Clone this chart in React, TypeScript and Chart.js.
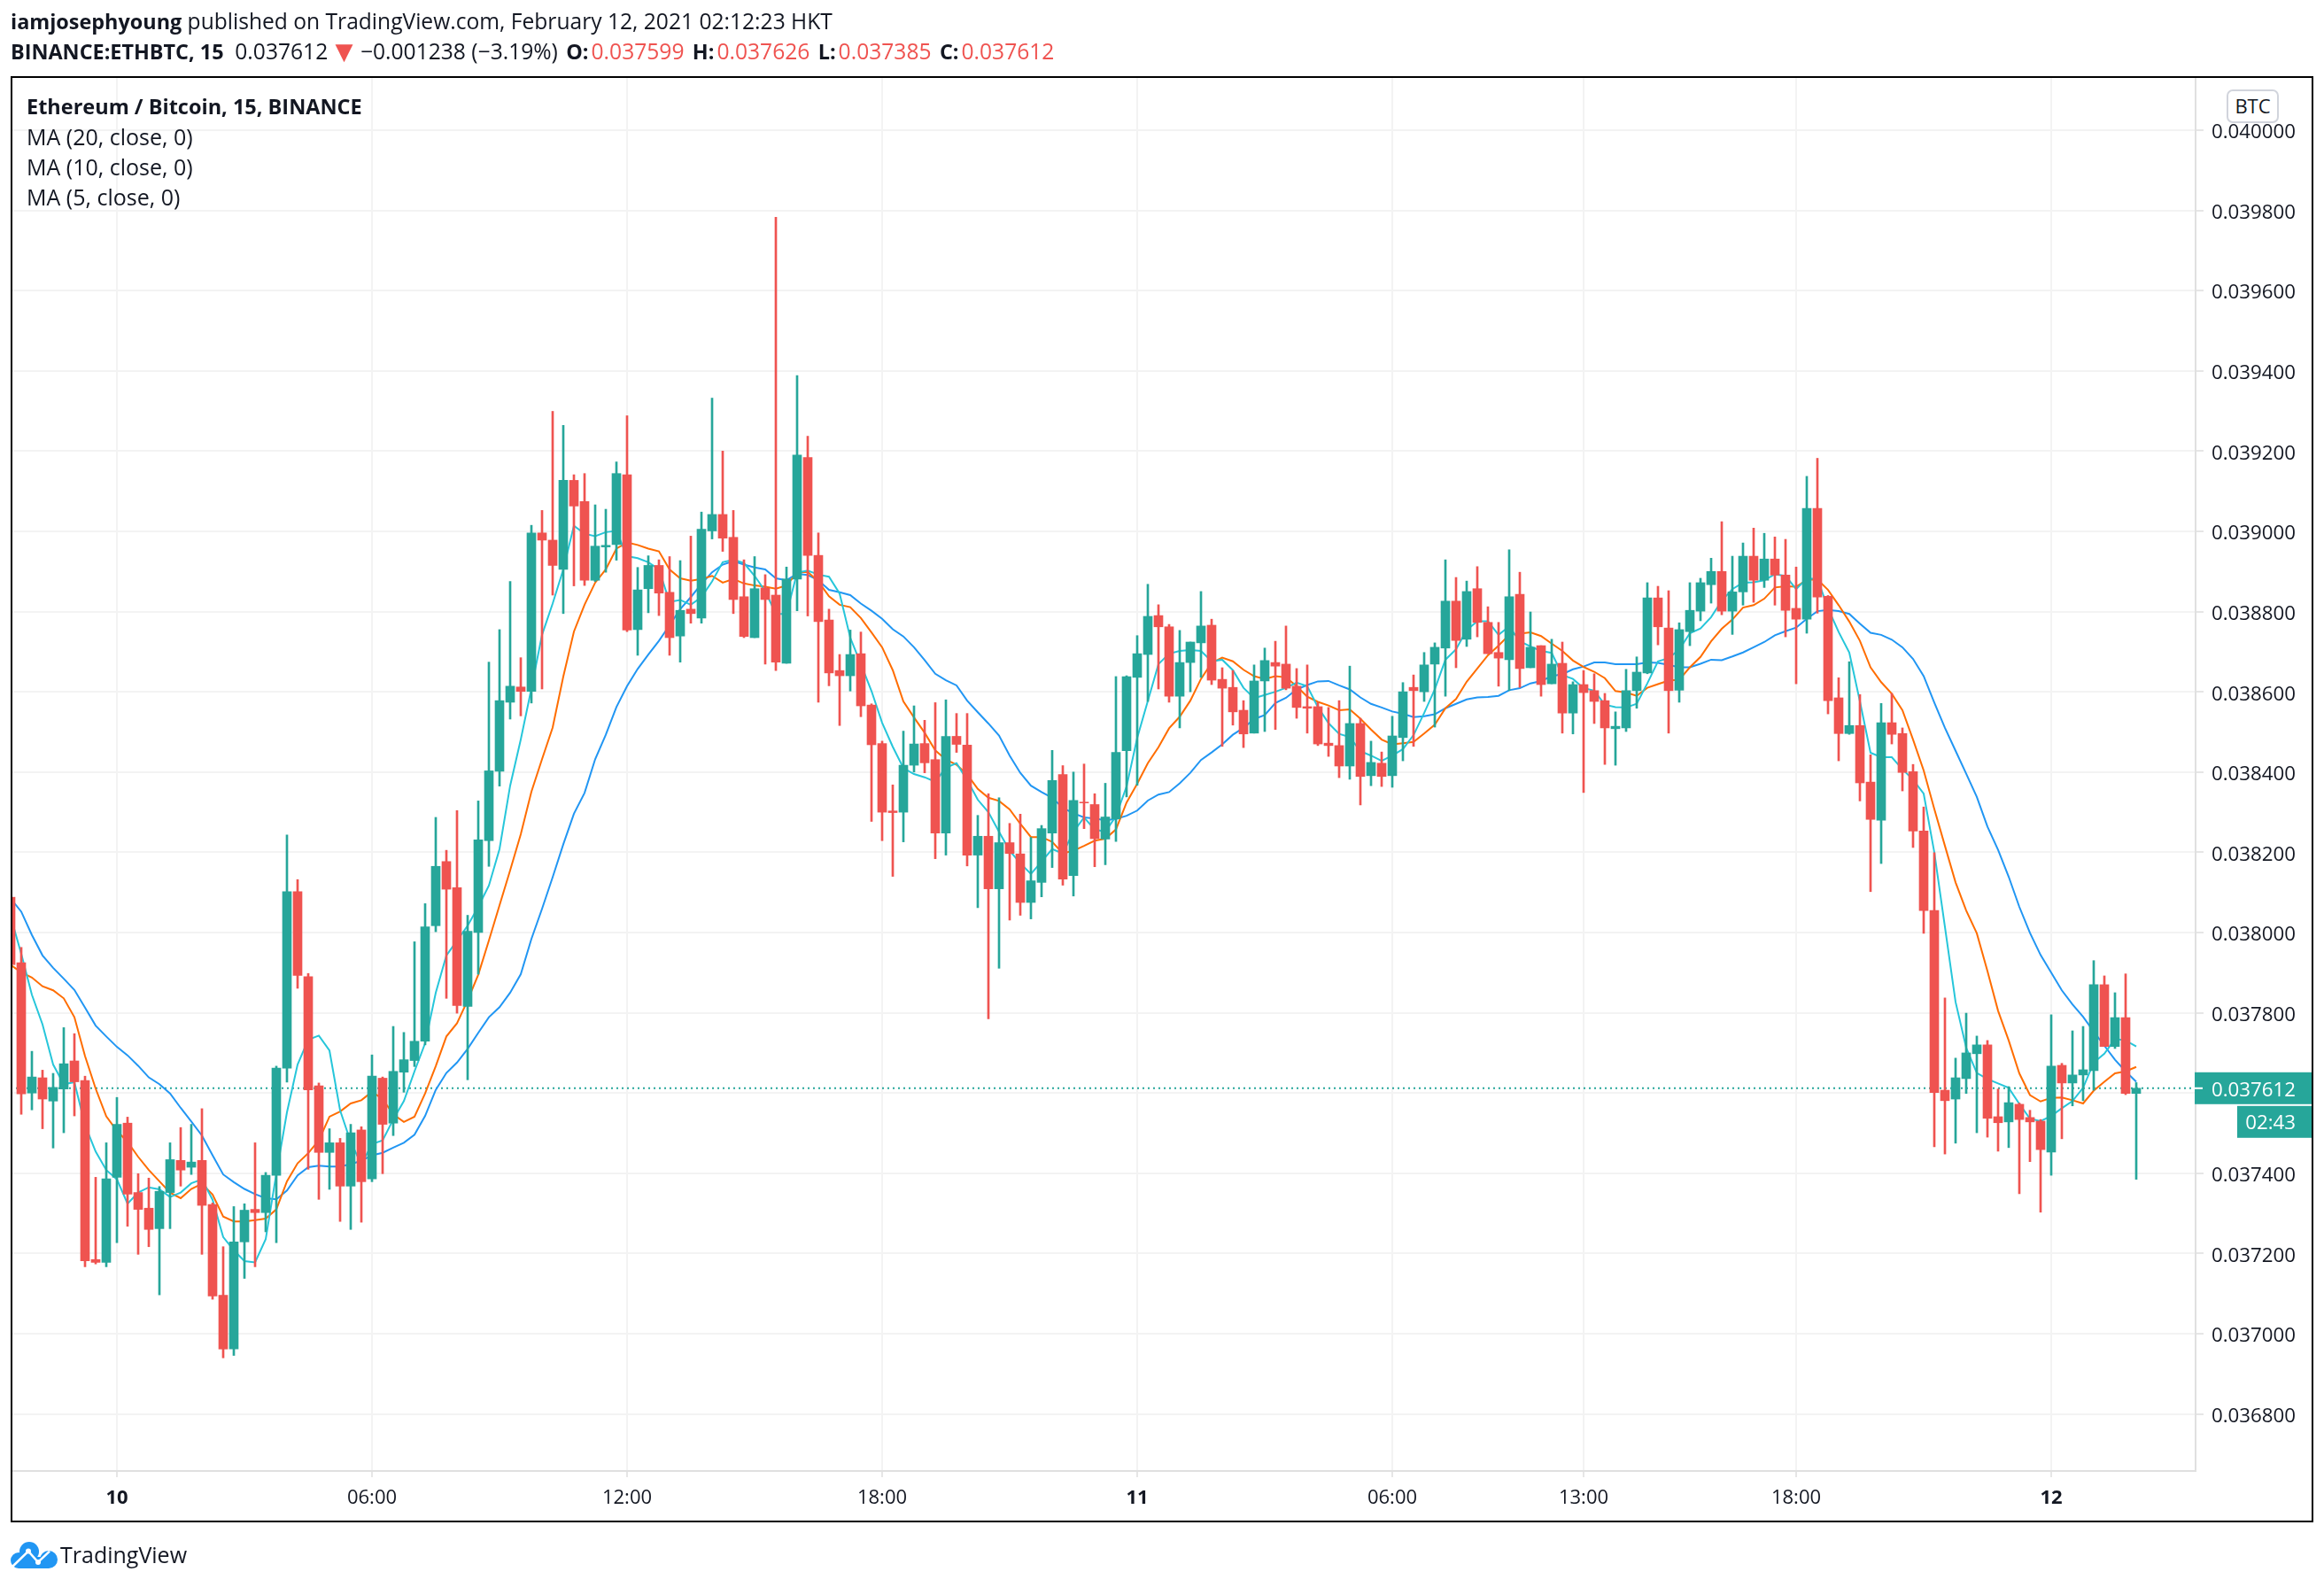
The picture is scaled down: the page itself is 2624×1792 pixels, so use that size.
import React, { useEffect, useRef } from "react";
import { Chart, registerables } from "chart.js";

Chart.register(...registerables);

// All prices are in millionths of a BTC (37612 = 0.037612).
const firstSlot = -10; // first candle's slot relative to the "10" tick
const opens = [
  38088,37925,37600,37638,37580,37610,37680,37631,37185,37178,
  37390,37525,37352,37313,37262,37352,37432,37415,37432,37322,
  37096,36962,37229,37310,37302,37395,37662,38102,37890,37618,
  37452,37476,37368,37508,37386,37637,37525,37652,37681,37729,
  38017,38177,38112,37816,38000,38229,38402,38574,38612,38601,
  38996,38978,38905,39127,39074,38878,38961,38967,39141,38755,
  38857,38915,38848,38739,38806,38784,39001,39042,38985,38837,
  38735,38859,38841,38671,38881,39184,38940,38779,38653,38640,
  38695,38567,38471,38303,38300,38417,38471,38431,38248,38489,
  38467,38193,38240,38109,38224,38196,38075,38125,38248,38394,
  38142,38325,38319,38233,38283,38453,38636,38693,38790,38762,
  38589,38673,38722,38766,38631,38611,38554,38497,38627,38673,
  38669,38614,38563,38563,38472,38466,38415,38521,38391,38422,
  38391,38486,38611,38600,38669,38709,38826,38731,38857,38773,
  38698,38680,38843,38660,38715,38620,38671,38547,38618,38603,
  38578,38508,38510,38603,38647,38834,38759,38604,38750,38801,
  38867,38900,38801,38849,38938,38878,38931,38891,38808,38781,
  39057,38838,38585,38496,38516,38375,38280,38523,38496,38401,
  38253,38055,37607,37585,37636,37698,37720,37541,37528,37572,
  37539,37530,37453,37669,37625,37645,37656,37870,37716,37788,37599,
];
const highs = [
  38095,37963,37704,37657,37649,37763,37748,37642,37390,37476,
  37589,37540,37399,37388,37367,37476,37514,37522,37561,37326,
  37217,37317,37324,37476,37402,37667,38243,38132,37898,37625,
  37511,37487,37522,37516,37695,37640,37766,37751,37977,38072,
  38287,38205,38304,38043,38328,38674,38755,38875,38685,39015,
  39052,39299,39264,39141,39144,39066,39055,39173,39288,38910,
  38939,38929,38937,38927,38988,39048,39332,39200,39052,38929,
  38937,38892,39783,38911,39388,39237,38996,38806,38693,38754,
  38749,38570,38477,38368,38502,38565,38529,38573,38580,38546,
  38546,38292,38346,38336,38272,38295,38237,38267,38454,38416,
  38400,38420,38346,38372,38638,38640,38740,38868,38817,38768,
  38753,38724,38850,38781,38660,38653,38578,38667,38709,38726,
  38764,38658,38667,38574,38561,38578,38664,38534,38477,38450,
  38539,38623,38642,38698,38722,38929,38885,38876,38912,38812,
  38773,38954,38898,38799,38715,38731,38724,38625,38653,38645,
  38596,38550,38656,38687,38872,38863,38852,38772,38872,38883,
  38933,39024,38938,38971,39008,38995,38986,38980,38911,39137,
  39182,38840,38635,38675,38593,38443,38571,38596,38510,38419,
  38313,38199,37837,37687,37799,37742,37731,37610,37616,37575,
  37557,37534,37795,37674,37755,37766,37930,37892,37850,37897,37626,
];
const lows = [
  37910,37547,37558,37511,37463,37501,37543,37167,37174,37167,
  37227,37268,37198,37217,37097,37262,37368,37397,37198,37086,
  36940,36946,37138,37167,37254,37227,37627,37861,37410,37335,
  37360,37280,37260,37278,37379,37399,37494,37602,37666,37720,
  38002,37836,37799,37633,37896,38165,38365,38532,38540,38572,
  38607,38841,38795,38864,38865,38875,38898,38928,38750,38691,
  38797,38790,38691,38674,38771,38771,38981,38950,38795,38735,
  38735,38669,38653,38671,38802,38789,38574,38615,38516,38602,
  38538,38277,38229,38140,38226,38400,38398,38184,38193,38449,
  38166,38062,37785,37911,38031,38043,38034,38089,38162,38118,
  38091,38259,38164,38169,38227,38338,38367,38576,38607,38574,
  38510,38600,38636,38618,38464,38517,38461,38497,38501,38506,
  38605,38534,38497,38466,38439,38386,38382,38318,38366,38364,
  38362,38428,38464,38576,38512,38589,38660,38713,38737,38695,
  38614,38603,38611,38660,38589,38620,38497,38495,38349,38521,
  38419,38417,38501,38559,38645,38717,38497,38574,38715,38777,
  38821,38792,38743,38816,38823,38860,38816,38737,38620,38746,
  38796,38545,38428,38494,38328,38102,38172,38470,38353,38212,
  37998,37466,37448,37475,37599,37501,37490,37455,37464,37349,
  37429,37303,37395,37486,37568,37581,37607,37716,37711,37596,37385,
];
const closes = [
  37920,37598,37640,37585,37614,37673,37628,37182,37178,37386,
  37522,37348,37310,37260,37355,37434,37408,37428,37320,37094,
  36962,37229,37308,37302,37395,37662,38102,37893,37608,37452,
  37476,37368,37501,37379,37642,37522,37654,37683,37729,38014,
  38165,38108,37818,38003,38231,38403,38578,38614,38601,38996,
  38978,38915,39127,39063,38878,38963,38965,39144,38754,38854,
  38915,38846,38735,38803,38795,39005,39042,38983,38830,38738,
  38857,38830,38674,38881,39190,38940,38775,38647,38640,38693,
  38565,38468,38300,38299,38417,38470,38423,38248,38489,38469,
  38193,38240,38109,38224,38197,38075,38129,38259,38379,38133,
  38329,38323,38234,38288,38449,38638,38695,38788,38762,38589,
  38673,38724,38764,38629,38609,38550,38495,38627,38678,38664,
  38609,38561,38559,38470,38466,38415,38521,38389,38424,38389,
  38490,38600,38603,38667,38711,38826,38728,38850,38773,38695,
  38684,38837,38658,38711,38618,38669,38547,38618,38598,38576,
  38510,38514,38603,38649,38834,38762,38603,38755,38803,38872,
  38900,38801,38849,38938,38878,38931,38891,38803,38781,39057,
  38836,38578,38496,38516,38373,38282,38523,38494,38399,38253,
  38055,37601,37581,37638,37700,37720,37537,37526,37576,37534,
  37528,37459,37667,37625,37645,37658,37870,37716,37788,37599,37612,
];
const ma20 = [
  38085,38052,37994,37943,37912,37885,37857,37813,37768,37741,
  37715,37694,37668,37639,37622,37599,37563,37529,37494,37445,
  37397,37378,37361,37348,37338,37335,37357,37395,37415,37419,
  37417,37417,37423,37431,37445,37451,37464,37476,37496,37543,
  37608,37650,37676,37710,37750,37789,37814,37850,37896,37984,
  38059,38138,38220,38296,38348,38432,38493,38562,38614,38657,
  38693,38727,38766,38806,38836,38869,38898,38917,38926,38917,
  38910,38905,38883,38878,38894,38891,38878,38854,38848,38841,
  38820,38802,38782,38756,38738,38711,38679,38645,38629,38616,
  38578,38549,38521,38491,38441,38398,38366,38350,38336,38311,
  38297,38287,38284,38280,38283,38291,38304,38329,38344,38350,
  38372,38398,38430,38449,38469,38493,38510,38532,38542,38572,
  38585,38606,38617,38626,38627,38616,38606,38586,38570,38561,
  38551,38545,38537,38539,38544,38559,38570,38581,38586,38587,
  38590,38604,38609,38621,38627,38639,38644,38656,38663,38673,
  38673,38669,38669,38669,38673,38672,38667,38661,38661,38670,
  38680,38679,38688,38698,38711,38724,38741,38751,38760,38782,
  38801,38804,38801,38794,38770,38747,38742,38730,38711,38682,
  38639,38573,38510,38453,38396,38338,38264,38206,38139,38064,
  37999,37944,37900,37856,37821,37790,37753,37718,37683,37654,37628,
];
const ma10 = [
  37919,37901,37888,37866,37856,37836,37789,37692,37611,37542,
  37506,37478,37441,37408,37380,37352,37338,37361,37374,37347,
  37292,37280,37280,37283,37287,37310,37380,37425,37450,37482,
  37541,37554,37574,37582,37603,37585,37547,37528,37541,37599,
  37667,37741,37774,37831,37895,37980,38068,38155,38245,38351,
  38432,38511,38638,38750,38817,38872,38905,38957,38972,38966,
  38957,38950,38905,38883,38877,38881,38889,38872,38881,38870,
  38865,38862,38857,38865,38897,38899,38875,38838,38817,38811,
  38784,38748,38711,38654,38576,38536,38498,38454,38431,38418,
  38394,38358,38336,38328,38307,38271,38238,38238,38226,38197,
  38204,38216,38229,38234,38257,38324,38371,38422,38462,38509,
  38538,38578,38632,38672,38685,38676,38655,38639,38632,38639,
  38636,38614,38588,38575,38566,38554,38556,38533,38506,38481,
  38469,38472,38475,38496,38518,38559,38582,38625,38658,38691,
  38715,38742,38745,38748,38739,38720,38702,38678,38662,38650,
  38634,38602,38598,38590,38610,38619,38628,38630,38661,38687,
  38726,38757,38780,38810,38816,38832,38860,38863,38862,38879,
  38880,38854,38816,38775,38727,38661,38624,38595,38554,38481,
  38404,38308,38216,38125,38055,37998,37904,37805,37731,37649,
  37595,37579,37588,37589,37582,37574,37606,37628,37649,37654,37665,
];
const ma5 = [
  38040,37947,37845,37771,37671,37622,37627,37520,37454,37408,
  37385,37324,37352,37365,37360,37341,37352,37375,37385,37334,
  37241,37208,37181,37178,37236,37399,37552,37671,37733,37743,
  37706,37557,37478,37422,37473,37482,37534,37580,37654,37724,
  37850,37943,37980,38017,38064,38117,38208,38366,38481,38608,
  38742,38820,38905,39014,38994,38988,38998,39001,38938,38933,
  38923,38905,38824,38829,38817,38836,38875,38923,38929,38921,
  38889,38851,38794,38794,38897,38902,38892,38887,38845,38735,
  38669,38602,38523,38463,38410,38395,38387,38376,38411,38422,
  38380,38331,38300,38251,38204,38173,38146,38177,38208,38197,
  38251,38287,38257,38251,38290,38364,38485,38577,38669,38695,
  38702,38704,38702,38676,38680,38654,38610,38584,38592,38600,
  38610,38623,38614,38562,38522,38495,38487,38452,38441,38428,
  38441,38457,38492,38547,38606,38680,38706,38754,38776,38776,
  38742,38763,38726,38713,38702,38697,38642,38632,38609,38603,
  38568,38562,38561,38570,38621,38676,38684,38705,38746,38758,
  38786,38827,38856,38872,38873,38878,38893,38889,38856,38882,
  38882,38808,38749,38698,38576,38448,38437,38437,38407,38381,
  38346,38200,38014,37827,37713,37650,37635,37624,37613,37573,
  37536,37530,37543,37562,37580,37613,37676,37698,37735,37731,37716,
];
const priceTicks = [36800,37000,37200,37400,37600,37800,38000,38200,38400,38600,38800,39000,39200,39400,39600,39800,40000];
const timeTickSlots = [0,24,48,72,96,120,138,158,182];
const timeTickLabels = ["10","06:00","12:00","18:00","11","06:00","13:00","18:00","12"];
const dayTickSlots = [0,96,182];
const lastPrice = 37612;
const countdown = "02:43";
const legendLines = ["MA (20, close, 0)", "MA (10, close, 0)", "MA (5, close, 0)"];

const UP = "#26a69a";
const DOWN = "#ef5350";
const INK = "#131722";
const FONT = '"Open Sans", sans-serif';
const REGULAR = 24.6;
const BOLD = 23.4;
const toPrice = (v: number) => v / 1e6;

const priceTag = {
  id: "priceTag",
  afterDraw(chart: any) {
    const { ctx, scales } = chart;
    const y = scales.y.getPixelForValue(toPrice(lastPrice));
    const left = scales.y.left - 1;
    const right = 2610;
    ctx.save();
    ctx.fillStyle = UP;
    ctx.fillRect(left, y - 18, right - left, 36);
    ctx.fillRect(2526, y + 20, right - 2526, 36);
    ctx.fillStyle = "#ffffff";
    ctx.fillRect(left, y - 1, 9, 2);
    ctx.font = `22.3px ${FONT}`;
    ctx.textBaseline = "middle";
    ctx.textAlign = "left";
    ctx.fillText(toPrice(lastPrice).toFixed(6), 2497, y + 3);
    ctx.textAlign = "right";
    ctx.fillText(countdown, 2592, y + 40);
    ctx.restore();
  },
};

function text(top: number, left: number, size: number, extra: React.CSSProperties = {}): React.CSSProperties {
  return {
    position: "absolute",
    left,
    top: top - 20,
    height: 40,
    lineHeight: "40px",
    fontFamily: FONT,
    fontSize: size,
    color: INK,
    whiteSpace: "pre",
    ...extra,
  };
}

export default function App() {
  const ref = useRef<HTMLCanvasElement>(null);

  useEffect(() => {
    document.body.style.margin = "0";
    const slots = opens.map((_, i) => i + firstSlot);
    const colors = opens.map((o, i) => (closes[i] >= o ? UP : DOWN));
    const line = (label: string, values: number[], color: string, order: number) => ({
      type: "line" as const,
      label,
      data: values.map((v, i) => ({ x: slots[i], y: toPrice(v) })),
      borderColor: color,
      borderWidth: 2,
      pointRadius: 0,
      tension: 0,
      order,
    });
    const chart = new Chart(ref.current as HTMLCanvasElement, {
      type: "bar",
      data: {
        datasets: [
          {
            label: "Body",
            data: slots.map((x, i) => ({ x, y: [toPrice(opens[i]), toPrice(closes[i])] })),
            backgroundColor: colors,
            barThickness: 10,
            grouped: false,
            order: 0,
          },
          {
            label: "Wick",
            data: slots.map((x, i) => ({ x, y: [toPrice(lows[i]), toPrice(highs[i])] })),
            backgroundColor: colors,
            barThickness: 2,
            grouped: false,
            order: 1,
          },
          line("MA 5", ma5, "#26c6da", 2),
          line("MA 10", ma10, "#ff6d00", 3),
          line("MA 20", ma20, "#2196f3", 4),
          {
            type: "line" as const,
            label: "Last price",
            data: [
              { x: firstSlot, y: toPrice(lastPrice) },
              { x: 196, y: toPrice(lastPrice) },
            ],
            borderColor: UP,
            borderWidth: 2,
            borderDash: [2, 4],
            pointRadius: 0,
            order: 5,
          },
        ] as any,
      },
      options: {
        responsive: false,
        animation: false,
        devicePixelRatio: 1,
        events: [],
        layout: { padding: { left: 14, top: 88, right: 13, bottom: 74 } },
        plugins: { legend: { display: false }, title: { display: false }, tooltip: { enabled: false } },
        scales: {
          x: {
            type: "linear",
            offset: false,
            min: -9.8333,
            max: 195.5833,
            afterFit(s: any) {
              s.height = 57;
            },
            afterBuildTicks(s: any) {
              s.ticks = timeTickSlots.map((value) => ({ value }));
            },
            grid: { offset: false, color: "#f3f3f3", lineWidth: 2, tickColor: "#e6e6e6", tickLength: 7 },
            border: { color: "#e0e0e0", width: 2 },
            ticks: {
              autoSkip: false,
              maxRotation: 0,
              padding: 11,
              color: INK,
              font: (c: any) => ({
                family: FONT,
                size: 22,
                weight: dayTickSlots.includes(c.tick?.value) ? "bold" : "normal",
              }),
              callback: (v: any) => timeTickLabels[timeTickSlots.indexOf(Number(v))],
            },
          },
          y: {
            type: "linear",
            position: "right",
            min: toPrice(36658),
            max: toPrice(40130),
            afterFit(s: any) {
              s.width = 132;
            },
            afterBuildTicks(s: any) {
              s.ticks = priceTicks.map((p) => ({ value: toPrice(p) }));
            },
            grid: { color: "#f3f3f3", lineWidth: 2, tickColor: "#e6e6e6", tickLength: 9 },
            border: { color: "#e0e0e0", width: 2 },
            ticks: {
              autoSkip: false,
              padding: 9,
              labelOffset: 3,
              color: INK,
              font: { family: FONT, size: 22.3 },
              callback: (v: any) => Number(v).toFixed(6),
            },
          },
        },
      },
      plugins: [priceTag],
    } as any);
    return () => chart.destroy();
  }, []);

  const red: React.CSSProperties = { color: DOWN };
  const b: React.CSSProperties = { fontWeight: 700, fontSize: BOLD };
  const ohlc: React.CSSProperties = { ...b, marginLeft: 3, marginRight: 3 };
  return (
    <div style={{ position: "absolute", left: 0, top: 0, width: 2624, height: 1792, overflow: "hidden", background: "#fff" }}>
      <canvas ref={ref} width={2624} height={1792} style={{ position: "absolute", left: 0, top: 0, display: "block" }} />
      <div style={{ position: "absolute", left: 12, top: 86, width: 2596, height: 1629, border: "2px solid #000" }} />

      <div style={text(24, 12, REGULAR)}>
        <span style={b}>iamjosephyoung</span> published on TradingView.com, February 12, 2021 02:12:23 HKT
      </div>
      <div style={text(58, 12, REGULAR)}>
        <span style={b}>BINANCE:ETHBTC, 15</span>
        {"  0.037612 "}
        <span style={{ color: DOWN, fontFamily: '"DejaVu Sans"', fontSize: 26, lineHeight: "26px", marginLeft: 2, marginRight: 2 }}>▼</span>
        {" −0.001238 (−3.19%) "}
        <span style={ohlc}>O:</span>
        <span style={red}>0.037599</span> <span style={ohlc}>H:</span>
        <span style={red}>0.037626</span> <span style={ohlc}>L:</span>
        <span style={red}>0.037385</span> <span style={ohlc}>C:</span>
        <span style={red}>0.037612</span>
      </div>

      <div style={text(120, 30, 23.5, { fontWeight: 700 })}>Ethereum / Bitcoin, 15, BINANCE</div>
      {legendLines.map((s, i) => (
        <div key={s} style={text(153.5 + i * 34, 30, 25)}>
          {s}
        </div>
      ))}

      <div
        style={{
          position: "absolute",
          left: 2514,
          top: 101,
          width: 55,
          height: 34,
          border: "2px solid #d1d4dc",
          borderRadius: 7,
          background: "#fff",
          textAlign: "center",
          lineHeight: "33px",
          fontFamily: FONT,
          fontSize: 22,
          color: INK,
        }}
      >
        BTC
      </div>

      <svg style={{ position: "absolute", left: 12, top: 1740 }} width={54} height={32} viewBox="0 0 54 32">
        <clipPath id="cloudClip">
          <rect x="0" y="0" width="54" height="31" />
        </clipPath>
        <g clipPath="url(#cloudClip)" fill="#2196f3">
          <circle cx="21" cy="12" r="11" />
          <circle cx="9" cy="22" r="9" />
          <circle cx="43" cy="21" r="10" />
          <rect x="9" y="18" width="34" height="14" />
        </g>
        <polyline points="2,29 20,11.6 31,24 44,11.6" fill="none" stroke="#fff" strokeWidth="2.5" />
        <circle cx="20" cy="11.6" r="3" fill="#fff" />
        <circle cx="31" cy="24" r="3" fill="#fff" />
      </svg>
      <div style={text(1755, 68, 25)}>TradingView</div>
    </div>
  );
}
